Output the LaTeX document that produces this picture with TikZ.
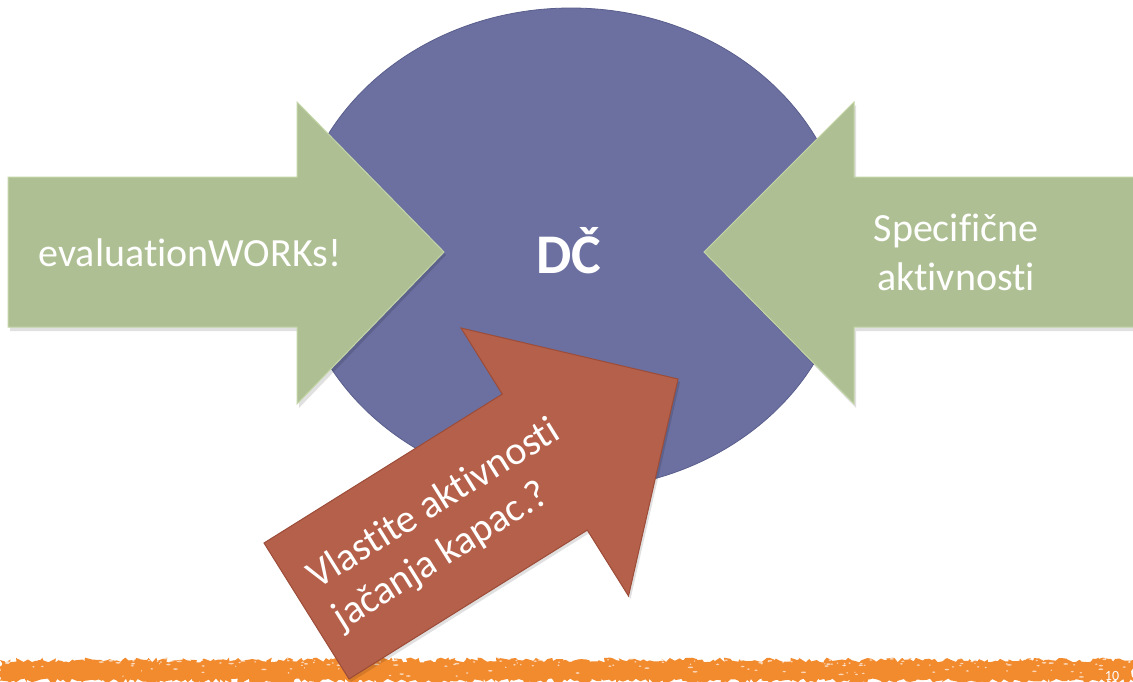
\documentclass[tikz,border=0pt]{standalone}
\usepackage{fontspec}
\setmainfont{Carlito}[Ligatures={NoCommon,NoContextual}]
\usetikzlibrary{shapes.geometric,decorations.pathmorphing}
\definecolor{disc}{HTML}{6B70A0}
\definecolor{discedge}{HTML}{5A5E8C}
\definecolor{leaf}{HTML}{AEC093}
\definecolor{leafedge}{HTML}{C4D6A8}
\definecolor{brick}{HTML}{B5604A}
\definecolor{brickedge}{HTML}{9C4C38}
\definecolor{band}{HTML}{F28A2E}
\begin{document}
\begin{tikzpicture}[x=1pt,y=-1pt,
  lbl/.style={text=white, inner sep=0pt, font=\fontsize{40}{48}\selectfont},
  greenarrow/.style={fill=leaf, draw=leafedge, line width=1pt, line join=miter},
  redarrow/.style={fill=brick, draw=brickedge, line width=1pt, line join=miter},
  softshadow/.style={fill=black, opacity=0.12}]
\useasboundingbox (0,0) rectangle (1133,681);
\clip (0,0) rectangle (1133,681);
\fill[white] (0,0) rectangle (1133,681);

% bottom band
\pgfmathsetseed{17}
\fill[band, decorate, decoration={random steps, segment length=3pt, amplitude=2.5pt}]
  (0,660) -- (1133,660) -- (1133,681) -- (0,681) -- cycle;
\foreach \i in {1,...,220}{
  \pgfmathsetmacro{\px}{rnd*1133}
  \pgfmathsetmacro{\py}{658+rnd*rnd*20}
  \pgfmathsetmacro{\pw}{0.6+rnd*2.2}
  \fill[white, opacity=0.65] (\px,\py) ellipse [x radius=\pw, y radius=0.8];
}

% central disc
\node[ellipse, minimum width=552pt, minimum height=482pt, inner sep=0pt,
      fill=disc, draw=discedge, line width=0.8pt] (dc) at (571,249) {};
\node[text=white, inner sep=0pt, anchor=base,
      font=\fontsize{56}{60}\selectfont\bfseries] (dctext) at (569,273) {DČ};

% left green arrow
\coordinate (lt) at (444,252);
\fill[softshadow] (10,180) -- (299,180) -- (299,105) -- (446,255) -- (299,408) -- (299,331) -- (10,331) -- cycle;
\draw[greenarrow] (8,177) -- (297,177) -- (297,102) -- (lt) -- (297,404) -- (297,327) -- (8,327) -- cycle;
\node[lbl, anchor=base] (evw) at (190,266) {evaluationWORKs!};

% right green arrow
\coordinate (rt) at (704,252);
\fill[softshadow] (1140,180) -- (856,180) -- (856,105) -- (706,255) -- (856,408) -- (856,331) -- (1140,331) -- cycle;
\draw[greenarrow] (1140,177) -- (854,177) -- (854,102) -- (rt) -- (854,404) -- (854,327) -- (1140,327) -- cycle;
\node[lbl, anchor=base] (spec) at (956,241) {Specifične};
\node[lbl, anchor=base] (akt) at (956,290) {aktivnosti};

% red arrow
\coordinate (rtip) at (678,379);
\fill[softshadow] (266,546) -- (504.3,397.1) -- (463,331) -- (680,382) -- (630.5,599) -- (589.3,533.1) -- (351,682) -- cycle;
\draw[redarrow] (264,543) -- (502.3,394.1) -- (461,328) -- (rtip) -- (628.5,596) -- (587.3,530.1) -- (349,679) -- cycle;
\node[lbl, rotate=32, align=left] (own) at (447,525) {Vlastite aktivnosti\\jačanja kapac.?};

% page number
\node[text=white, inner sep=0pt, anchor=base, font=\fontsize{14}{16}\selectfont] (pg) at (1112,680) {10};
\end{tikzpicture}
\end{document}
